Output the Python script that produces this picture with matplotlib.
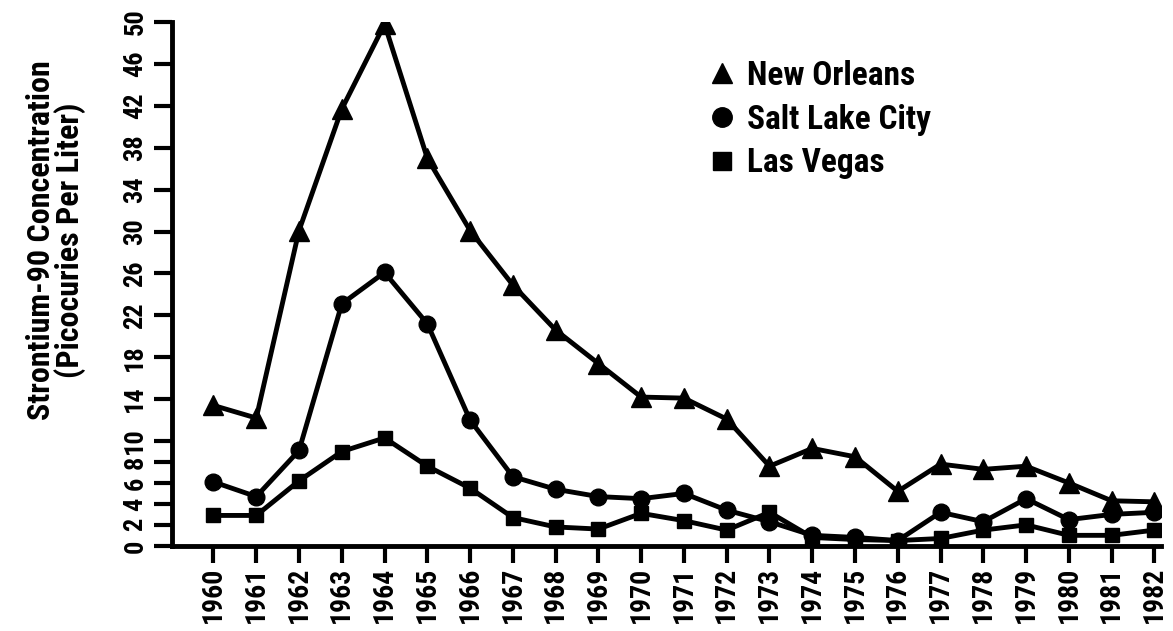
import matplotlib.pyplot as plt
from matplotlib.lines import Line2D

years = list(range(1960, 1983))
new_orleans = [13.4, 12.2, 30.1, 41.7, 49.8, 37.0, 30.1, 24.9, 20.6, 17.4, 14.2, 14.1,
               12.1, 7.6, 9.3, 8.5, 5.2, 7.8, 7.3, 7.6, 6.0, 4.3, 4.2]
salt_lake = [6.1, 4.7, 9.1, 23.1, 26.1, 21.2, 12.0, 6.6, 5.4, 4.7, 4.5, 5.0,
             3.4, 2.3, 1.0, 0.8, 0.5, 3.2, 2.3, 4.5, 2.5, 3.0, 3.2]
las_vegas = [2.9, 2.9, 6.2, 9.0, 10.3, 7.6, 5.5, 2.7, 1.8, 1.6, 3.1, 2.4,
             1.5, 3.2, 0.8, 0.6, 0.5, 0.7, 1.5, 2.0, 1.0, 1.0, 1.5]
y_ticks = [0, 2, 4, 6, 8, 10, 14, 18, 22, 26, 30, 34, 38, 42, 46, 50]
series_names = ['New Orleans', 'Salt Lake City', 'Las Vegas']

plt.rcParams['font.family'] = ['Roboto Condensed', 'DejaVu Sans']
plt.rcParams['font.weight'] = 'bold'

fig = plt.figure(figsize=(11.73, 6.31), dpi=100)
ax = fig.add_axes([0.147, 0.135, 0.843, 0.83])

ax.plot(years, new_orleans, color='black', lw=3.5, marker='^', ms=15)
ax.plot(years, salt_lake, color='black', lw=3.5, marker='o', ms=12)
ax.plot(years, las_vegas, color='black', lw=3.5, marker='s', ms=10.5)

ax.set_xlim(1959.04, 1982.16)
ax.set_ylim(0, 50)

ax.spines['top'].set_visible(False)
ax.spines['right'].set_visible(False)
ax.spines['left'].set_linewidth(3.5)
ax.spines['bottom'].set_linewidth(3.5)

ax.set_xticks(years)
ax.set_xticklabels([str(y) for y in years], rotation=90, fontsize=20, fontweight='bold')
ax.set_yticks(y_ticks)
ax.set_yticklabels([str(v) for v in y_ticks], rotation=90, va='center', fontsize=19, fontweight='bold')
ax.tick_params(axis='x', length=12, width=3, pad=3)
ax.tick_params(axis='y', length=13, width=3, pad=5)

fig.text(56 / 1173, 1 - 240 / 631, 'Strontium-90 Concentration\n(Picocuries Per Liter)',
         rotation=90, ha='center', va='center', fontsize=23, fontweight='bold', linespacing=0.9)

handles = [Line2D([], [], color='black', marker='^', ls='none', ms=15),
           Line2D([], [], color='black', marker='o', ls='none', ms=14),
           Line2D([], [], color='black', marker='s', ls='none', ms=13)]
fig.legend(handles, series_names, loc='upper left', bbox_to_anchor=(0.601, 0.905), frameon=False,
           prop={'size': 24, 'weight': 'bold'}, handletextpad=0.25, labelspacing=0.35,
           handlelength=1.0, borderpad=0, borderaxespad=0)

fig.savefig('out.png', dpi=100)
